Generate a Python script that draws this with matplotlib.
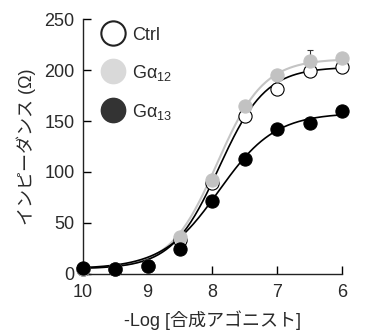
import matplotlib
matplotlib.use("Agg")
import matplotlib.pyplot as plt
import numpy as np
from matplotlib.lines import Line2D

# Data (-log concentration)
x_vals = [10, 9.5, 9, 8.5, 8, 7.5, 7, 6.5, 6]
ctrl = [5, 5, 8, 33, 89, 155, 181, 199, 203]
g12 = [5, 5, 8, 36, 92, 165, 195, 209, 212]
g12_err = [0, 0, 0, 0, 0, 0, 0, 11, 0]
g13 = [5.5, 4.6, 7.8, 24.5, 72, 113, 142, 148, 160]

# Hill fit parameters: bottom, top, pEC50, hill slope
fit_ctrl = (5, 203, 7.9, 1.2)
fit_g12 = (5, 211, 7.93, 1.2)
fit_g13 = (5, 158, 7.9, 1.0)

labels = ["Ctrl", "G$\\mathregular{\\alpha_{12}}$", "G$\\mathregular{\\alpha_{13}}$"]
xticks = [10, 9, 8, 7, 6]
yticks = [0, 50, 100, 150, 200, 250]

plt.rcParams['font.family'] = ['Liberation Sans', 'Noto Sans CJK JP']
plt.rcParams['mathtext.fontset'] = 'custom'
plt.rcParams['mathtext.rm'] = 'Liberation Sans'
plt.rcParams['mathtext.it'] = 'Liberation Sans'
txt = '#2a2a2a'

def hill(x, p):
    b, t, pec, h = p
    return b + (t - b) / (1 + 10 ** (h * (x - pec)))

fig = plt.figure(figsize=(3.82, 3.30), dpi=100)
ax = fig.add_axes([0.217, 0.170, 0.678, 0.772])

xs = np.linspace(10, 6, 200)
ax.plot(xs, hill(xs, fit_ctrl), color='black', lw=1.2, zorder=2, clip_on=False)
ax.plot(xs, hill(xs, fit_g12), color='#c4c4c4', lw=1.5, zorder=1, clip_on=False)
ax.plot(xs, hill(xs, fit_g13), color='black', lw=1.2, zorder=2, clip_on=False)

ms = 9.5
ax.plot(x_vals, ctrl, 'o', ms=ms, mfc='white', mec='black', mew=0.8, ls='none', zorder=3, clip_on=False)
ax.errorbar(x_vals, g12, yerr=[[0]*len(g12_err), g12_err], fmt='none', ecolor='#333333',
            elinewidth=0.8, capsize=2, capthick=0.8, zorder=3.5, clip_on=False)
ax.plot(x_vals, g12, 'o', ms=ms, mfc='#c2c2c2', mec='#c2c2c2', mew=0.8, ls='none', zorder=4, clip_on=False)
ax.plot(x_vals, g13, 'o', ms=ms, mfc='black', mec='black', mew=0.8, ls='none', zorder=5, clip_on=False)

ax.set_xlim(10, 6)
ax.set_ylim(0, 250)
ax.set_xticks(xticks)
ax.set_xticklabels([str(v) for v in xticks])
ax.set_yticks(yticks)
ax.tick_params(axis='x', direction='in', length=6, width=1, labelsize=13, pad=7, labelcolor=txt)
ax.tick_params(axis='y', direction='in', length=6, width=1, labelsize=13, pad=6, labelcolor=txt)
for s in ['top', 'right']:
    ax.spines[s].set_visible(False)
for s in ['left', 'bottom']:
    ax.spines[s].set_linewidth(1)
    ax.spines[s].set_color('#222222')

ax.set_xlabel('-Log [合成アゴニスト]', fontsize=13, labelpad=7, color=txt)
ax.set_ylabel('インピーダンス (Ω)', fontsize=13, labelpad=6, color=txt)

handles = [
    Line2D([], [], marker='o', ls='none', ms=17.5, mfc='white', mec='#222222', mew=1.5),
    Line2D([], [], marker='o', ls='none', ms=17.5, mfc='#d9d9d9', mec='#d9d9d9'),
    Line2D([], [], marker='o', ls='none', ms=17.5, mfc='#333333', mec='#333333'),
]
leg = ax.legend(handles, labels, loc='upper left', bbox_to_anchor=(0.02, 1.02), frameon=False,
                fontsize=13, labelspacing=1.05, handletextpad=0.35, handlelength=1.4, borderpad=0.2,
                labelcolor=txt)

fig.savefig('out.png', dpi=100)
